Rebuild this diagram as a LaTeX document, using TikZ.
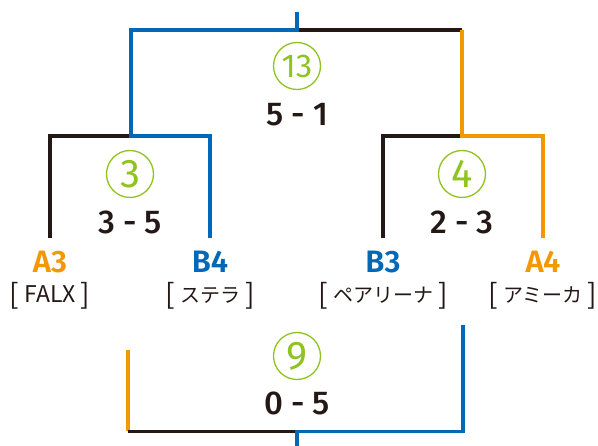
\documentclass[tikz,border=0pt]{standalone}
\usepackage{fontspec}
\setmainfont{Fira Sans}
\newfontfamily\medfont{Fira Sans Medium}
\newfontfamily\semifont{Fira Sans SemiBold}
\newfontfamily\jpfont{Noto Sans CJK JP}
\definecolor{tblue}{HTML}{0068B7}
\definecolor{torange}{HTML}{F39800}
\definecolor{tblack}{HTML}{231815}
\definecolor{tgreen}{HTML}{8FC31F}
\newcommand\teamname[1]{\raisebox{-2pt}{\fontsize{28}{28}\selectfont[}\hspace{5pt}#1\hspace{5pt}\raisebox{-2pt}{\fontsize{28}{28}\selectfont]}}
\tikzset{
  line/.style={line width=3.2pt},
  bline/.style={line, tblue},
  oline/.style={line, torange},
  kline/.style={line, tblack},
  matchno/.style={circle, draw=tgreen, line width=1.3pt, minimum size=47pt, inner sep=0pt,
    text=tgreen, font=\fontsize{40}{40}\selectfont},
  score/.style={text=tblack, inner sep=0pt, font=\medfont\fontsize{33}{33}\selectfont},
  team/.style={inner sep=0pt, font=\semifont\fontsize{31}{31}\selectfont},
  tname/.style={inner sep=0pt, text=tblack, font=\jpfont\fontsize{20}{20}\selectfont},
}
\begin{document}
\begin{tikzpicture}[x=1pt,y=-1pt]
\useasboundingbox (0,0) rectangle (598,446);
% match numbers and scores
\node[matchno] (m13) at (297,66) {\fontsize{33}{33}\selectfont 13};
\node[score] (s13) at (297,115) {5 - 1};
\node[matchno] (m3) at (130,174) {3};
\node[score] (s3) at (130,222) {3 - 5};
\node[matchno] (m4) at (462,174) {4};
\node[score] (s4) at (462,222) {2 - 3};
\node[matchno] (m9) at (297,356) {9};
\node[score] (s9) at (297,403) {0 - 5};
% teams
\node[team, text=torange] (a3) at (50,262) {A3};
\node[team, text=tblue] (b4) at (210,262) {B4};
\node[team, text=tblue] (b3) at (383,262) {B3};
\node[team, text=torange] (a4) at (543,262) {A4};
\node[tname] (na3) at (50,296) {\teamname{\fontsize{23}{23}\selectfont FALX}};
\node[tname] (nb4) at (210,296) {\teamname{ステラ}};
\node[tname] (nb3) at (383,296) {\teamname{ペアリーナ}};
\node[tname] (na4) at (543,296) {\teamname{アミーカ}};
% bracket coordinates
\coordinate (a3top) at (50,238);
\coordinate (b4top) at (210,238);
\coordinate (b3top) at (383,238);
\coordinate (a4top) at (543,238);
\coordinate (lj) at (131,136);
\coordinate (rj) at (462,136);
\coordinate (tl) at (131,30);
\coordinate (tc) at (297,30);
\coordinate (tr) at (462,30);
\coordinate (ttop) at (297,12);
\coordinate (bo) at (128,350);
\coordinate (bbl) at (128,431.5);
\coordinate (bc) at (297,431.5);
\coordinate (bbot) at (297,446);
\coordinate (bbr) at (463,431.5);
\coordinate (bb) at (463,325);
% upper bracket
\draw[kline] (a3top) |- (lj);
\draw[kline] (b3top) |- (rj);
\draw[kline] (tc) -- (tr);
\draw[bline] (b4top) |- (lj) -- (tl) -- (tc) -- (ttop);
\draw[oline] (a4top) |- (rj) -- (tr);
% lower bracket
\draw[oline] (bo) -- (bbl);
\draw[kline] (bbl) -- (bc);
\draw[bline] (bbot) -- (bc) -- (bbr) -- (bb);
\end{tikzpicture}
\end{document}
